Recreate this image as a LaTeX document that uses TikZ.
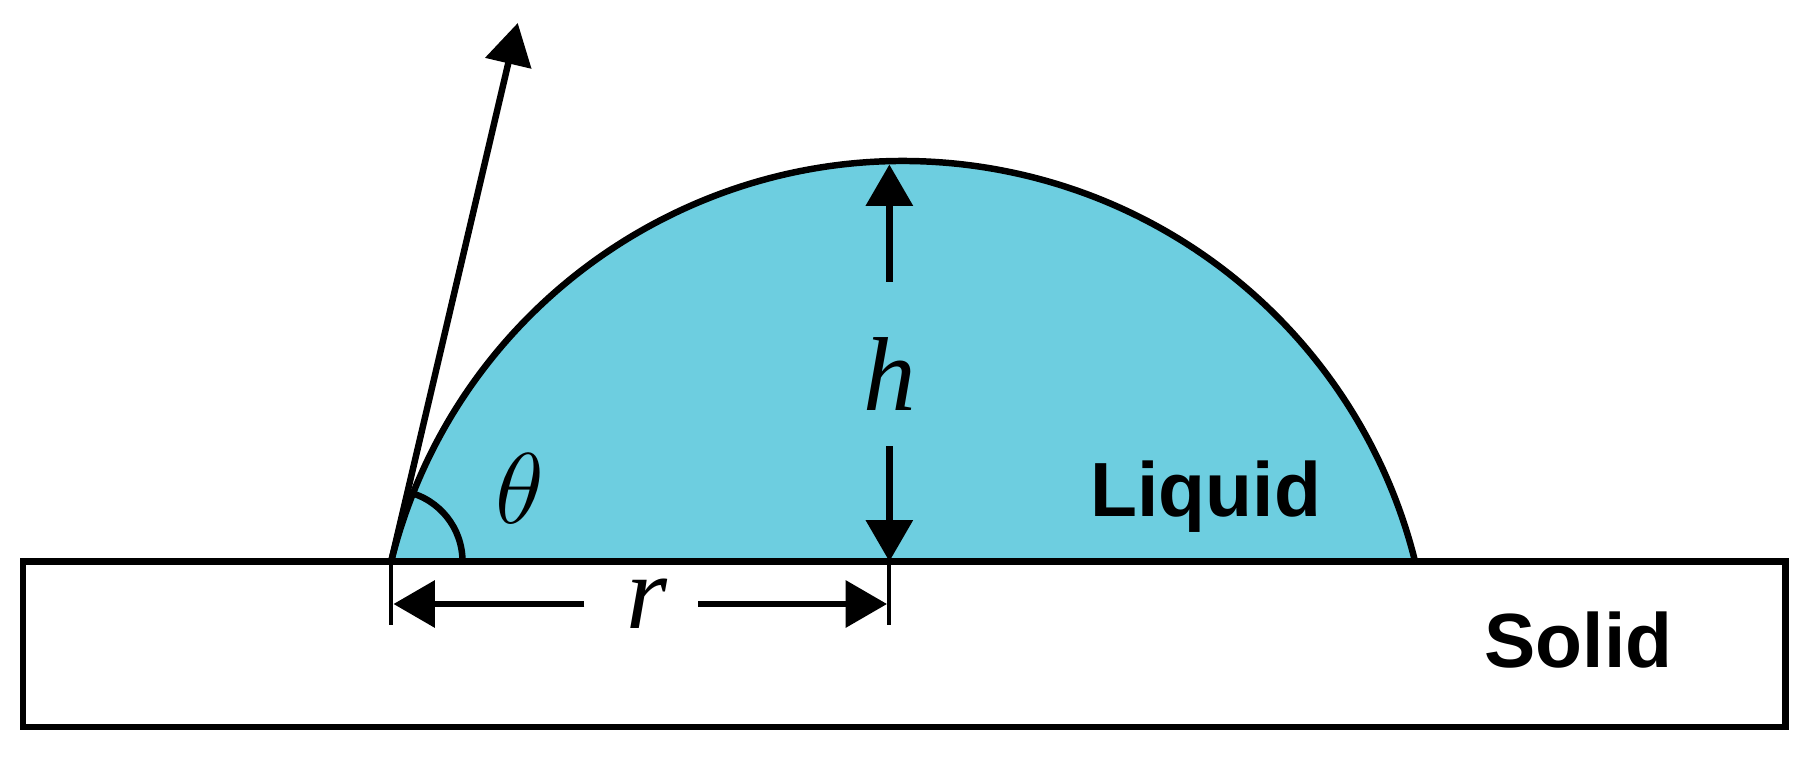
\documentclass[tikz,border=0pt]{standalone}
\usepackage{fontspec}
\setsansfont{Liberation Sans}
\setmainfont{Liberation Serif}
\usetikzlibrary{arrows.meta,calc}
\definecolor{liq}{HTML}{6DCEE0}
\tikzset{
  ln/.style={line width=1.6pt},
  arr/.style={ln,-{Triangle[length=3.6mm,width=4mm]}},
  lbl/.style={font=\sffamily\bfseries\fontsize{19}{22}\selectfont},
  sym/.style={font=\itshape\fontsize{26}{30}\selectfont}
}
\begin{document}
\begin{tikzpicture}
\useasboundingbox (0,0) rectangle (15.68,6.59);
% solid
\draw[ln] (0.20,1.71) rectangle (15.52,0.27);
% liquid
\coordinate (L) at (3.40,1.71);
\coordinate (R) at (12.30,1.71);
\fill[liq] (L) arc[start angle=166.05,end angle=13.95,radius=4.585] -- cycle;
\draw[ln] (L) arc[start angle=166.05,end angle=13.95,radius=4.585];
\draw[ln] (L) -- (R);
% tangent
\coordinate (tip) at (4.50,6.39);
\draw[arr] (L) -- (tip);
\draw[ln] ($(L)+(0.62,0)$) arc[start angle=0,end angle=76.8,radius=0.62];
\node[font=\fontsize{24}{28}\selectfont] (th) at (4.52,2.34) {$\theta$};
% h
\coordinate (B) at (7.73,1.71);
\coordinate (hu) at (7.73,4.14);
\coordinate (hd) at (7.73,2.71);
\coordinate (ht) at (7.73,5.16);
\draw[arr] (hu) -- (ht);
\draw[arr] (hd) -- (B);
\node[sym] (h) at (7.73,3.34) {h};
% r
\coordinate (Lt) at (3.40,1.16);
\coordinate (Bt) at (7.73,1.16);
\draw[line width=1pt] (L) -- (Lt);
\draw[line width=1pt] (B) -- (Bt);
\coordinate (r1) at (5.08,1.34);
\coordinate (r2) at (6.07,1.34);
\coordinate (rl) at (3.42,1.34);
\coordinate (rr) at (7.71,1.34);
\draw[arr] (r1) -- (rl);
\draw[arr] (r2) -- (rr);
\node[sym] (r) at (5.62,1.34) {r};
\node[lbl] (liquid) at (10.48,2.27) {Liquid};
\node[lbl] (solid) at (13.72,1.03) {Solid};
\end{tikzpicture}
\end{document}
